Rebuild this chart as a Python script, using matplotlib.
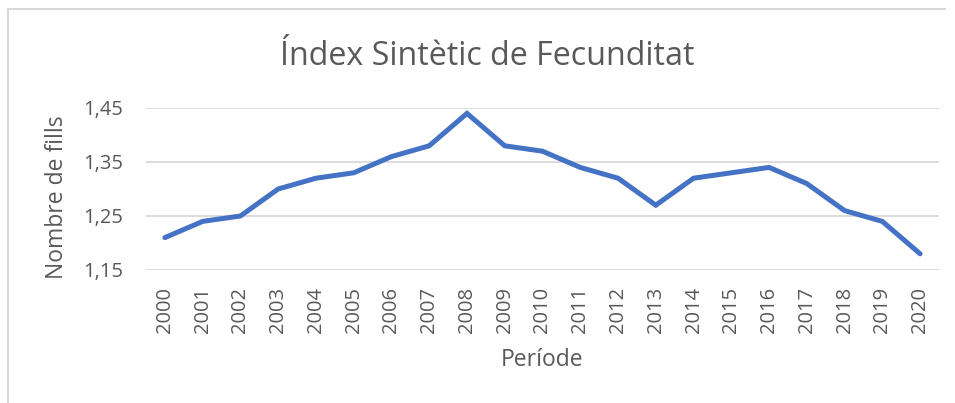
import matplotlib.pyplot as plt
from matplotlib.lines import Line2D
from matplotlib.ticker import FuncFormatter

anys = ['2000', '2001', '2002', '2003', '2004', '2005', '2006', '2007', '2008', '2009', '2010',
        '2011', '2012', '2013', '2014', '2015', '2016', '2017', '2018', '2019', '2020']
isf = [1.21, 1.24, 1.25, 1.30, 1.32, 1.33, 1.36, 1.38, 1.44, 1.38, 1.37,
       1.34, 1.32, 1.27, 1.32, 1.33, 1.34, 1.31, 1.26, 1.24, 1.18]
yticks = [1.15, 1.25, 1.35, 1.45]

plt.rcParams['font.family'] = ['Open Sans', 'DejaVu Sans']
gris = '#595959'

fig = plt.figure(figsize=(9.55, 4.03), dpi=100)
ax = fig.add_axes([146 / 955, 1 - 270 / 403, (939 - 146) / 955, (270 - 108) / 403])

# marc del grafic (vora esquerra i superior)
fig.lines.append(Line2D([7.5 / 955, 7.5 / 955, 945 / 955], [0, 1 - 8.5 / 403, 1 - 8.5 / 403],
                        transform=fig.transFigure, color='#D9D9D9', linewidth=1.5))

x = range(len(anys))
ax.plot(x, isf, color='#4472C4', linewidth=3.6, solid_joinstyle='miter', solid_capstyle='round')

ax.set_xlim(-0.5, len(anys) - 0.5)
ax.set_ylim(1.15, 1.45)
ax.set_yticks(yticks)
ax.yaxis.set_major_formatter(FuncFormatter(lambda v, p: ('%.2f' % v).replace('.', ',')))
ax.set_xticks(list(x))
ax.set_xticklabels(anys, rotation=90)
ax.grid(axis='y', color='#D9D9D9', linewidth=1.3)
ax.set_axisbelow(True)
for s in ax.spines.values():
    s.set_visible(False)
ax.tick_params(length=0, colors=gris, labelsize=14.5)
ax.tick_params(axis='y', pad=16.5)
ax.tick_params(axis='x', pad=12)

ax.set_ylabel('Nombre de fills', fontsize=16.5, color=gris)
ax.yaxis.set_label_coords(-0.112, 0.45)
ax.yaxis.label.set_va('center')
ax.set_xlabel('Període', fontsize=16.5, color=gris)
ax.xaxis.set_label_coords(0.5, -0.555)
ax.xaxis.label.set_va('center')

fig.text(487.5 / 955, 1 - 65 / 403, 'Índex Sintètic de Fecunditat', ha='center', va='baseline',
         fontsize=23.2, color=gris)

plt.savefig('out.png')
